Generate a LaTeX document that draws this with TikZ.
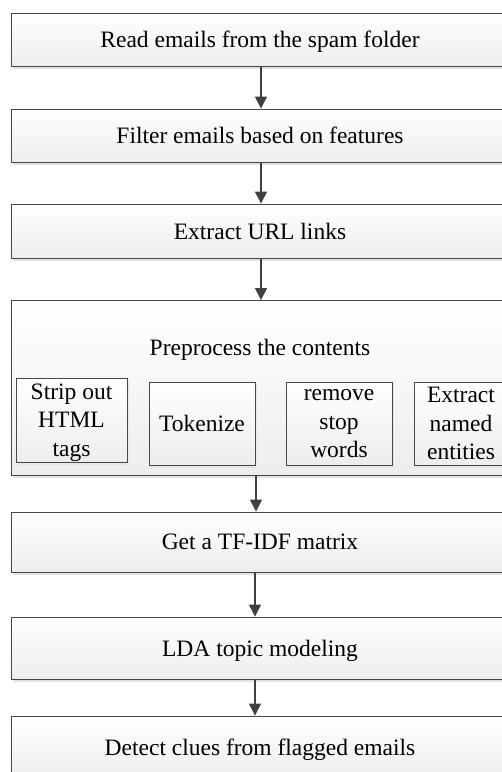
\documentclass[tikz,border=0pt]{standalone}
\usepackage{fontspec}
\setmainfont{Liberation Serif}
\usetikzlibrary{arrows.meta,shadows}
\begin{document}
\begin{tikzpicture}[x=1pt,y=-1pt,
  box/.style={draw=black!72, line width=0.9pt, rectangle, top color=white, bottom color=gray!14,
    general shadow={shadow xshift=2pt, shadow yshift=-2.5pt, fill=gray!22},
    inner sep=0pt, align=center, text depth=0pt, font=\fontsize{23.5}{28.5}\selectfont},
  sub/.style={box, general shadow={shadow xshift=1.5pt, shadow yshift=-1.5pt, fill=gray!18}},
  arr/.style={draw=black!75, line width=1.4pt, -{Triangle[length=12pt,width=12pt]}},
  lbl/.style={inner sep=0pt, text depth=0pt, font=\fontsize{23.5}{28.5}\selectfont}]
\useasboundingbox (0,0) rectangle (502,772);
\clip (0,0) rectangle (502,772);
\node[box, minimum width=498pt, minimum height=53pt] (b1) at (260,39.5) {Read emails from the spam folder};
\node[box, minimum width=498pt, minimum height=53pt] (b2) at (260,135.5) {Filter emails based on features};
\node[box, minimum width=498pt, minimum height=54pt] (b3) at (260,231) {Extract URL links};
\node[box, minimum width=498pt, minimum height=175pt] (b4) at (260,388) {};
\node[lbl] (pp) at (260,347) {Preprocess the contents};
\node[sub, minimum width=111pt, minimum height=84pt] (s1) at (71.5,420) {Strip out\\HTML\\tags};
\node[sub, minimum width=106pt, minimum height=83pt] (s2) at (202,423.5) {Tokenize};
\node[sub, minimum width=106pt, minimum height=83pt] (s3) at (339,423.5) {remove\\stop\\words};
\node[sub, minimum width=94pt, minimum height=83pt] (s4) at (461,423.5) {Extract\\named\\entities};
\node[box, minimum width=498pt, minimum height=60pt] (b5) at (260,542) {Get a TF-IDF matrix};
\node[box, minimum width=498pt, minimum height=62pt] (b6) at (260,648) {LDA topic modeling};
\node[box, minimum width=498pt, minimum height=62pt] (b7) at (260,747) {Detect clues from flagged emails};
\draw[arr] ([xshift=1pt]b1.south) -- ([xshift=1pt]b2.north);
\draw[arr] ([xshift=1pt]b2.south) -- ([xshift=1pt]b3.north);
\draw[arr] ([xshift=1pt]b3.south) -- ([xshift=1pt]b4.north);
\draw[arr] ([xshift=-4pt]b4.south) -- ([xshift=-4pt]b5.north);
\draw[arr] ([xshift=-5pt]b5.south) -- ([xshift=-5pt]b6.north);
\draw[arr] ([xshift=-5pt]b6.south) -- ([xshift=-5pt]b7.north);
\end{tikzpicture}
\end{document}
